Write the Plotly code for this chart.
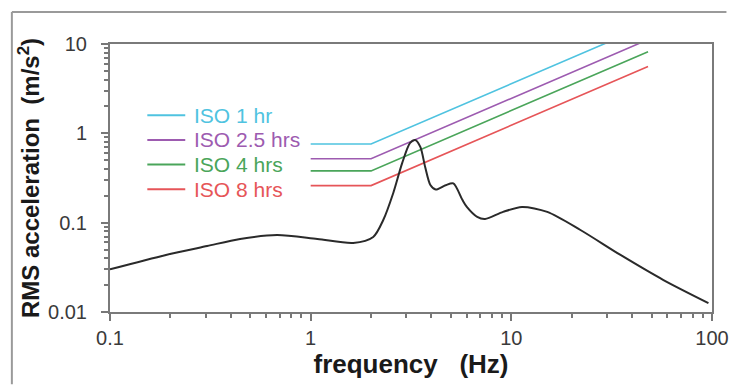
import plotly.graph_objects as go

# ---- data ----
freq = [0.1, 0.19, 0.305, 0.445, 0.68, 1.08, 1.63, 2.05, 2.30, 2.58, 2.86, 3.13, 3.32, 3.52, 3.72,
        3.95, 4.2, 4.7, 5.14, 5.7, 6.0, 6.76, 7.4, 9.1, 11.3, 15.1, 22.1, 35.0, 57.3, 96.0]
rms = [0.030, 0.0435, 0.0548, 0.0657, 0.0728, 0.0657, 0.0593, 0.0692, 0.107, 0.215, 0.467, 0.78, 0.843,
       0.705, 0.42, 0.264, 0.235, 0.262, 0.275, 0.18, 0.15, 0.116, 0.110, 0.132, 0.150, 0.132, 0.0828,
       0.0435, 0.0228, 0.0126]

iso_freq = [1, 2, 48]
iso_names = ["ISO 1 hr", "ISO 2.5 hrs", "ISO 4 hrs", "ISO 8 hrs"]
iso_values = [
    [0.76, 0.76, 16.3],
    [0.52, 0.52, 11.2],
    [0.38, 0.38, 8.2],
    [0.26, 0.26, 5.6],
]
iso_colors = ["#4fc3e0", "#9d5bb0", "#4aa55a", "#e65558"]

x_ticks = [0.1, 1, 10, 100]
x_ticktext = ["0.1", "1", "10", "100"]
y_ticks = [0.01, 0.1, 1, 10]
y_ticktext = ["0.01", "0.1", "1", "10"]

FONT = "Liberation Sans, Arial, sans-serif"

fig = go.Figure()
for name, vals, col in zip(iso_names, iso_values, iso_colors):
    fig.add_trace(go.Scatter(x=iso_freq, y=vals, mode="lines", name=name,
                             line=dict(color=col, width=1.6), showlegend=False))
fig.add_trace(go.Scatter(x=freq, y=rms, mode="lines", line=dict(color="#2a2a2a", width=2, shape="spline", smoothing=0.8),
                         showlegend=False))

# manual legend (inside plot area, top-left)
leg_x0, leg_x1, leg_tx = 0.062, 0.125, 0.137
leg_y0, leg_dy = 0.734, 0.092
for i, (name, col) in enumerate(zip(iso_names, iso_colors)):
    yy = leg_y0 - i * leg_dy
    fig.add_shape(type="line", xref="paper", yref="paper", x0=leg_x0, x1=leg_x1, y0=yy, y1=yy,
                  line=dict(color=col, width=2))
    fig.add_annotation(xref="paper", yref="paper", x=leg_tx, y=yy, text=name, showarrow=False,
                       xanchor="left", yanchor="middle", font=dict(family=FONT, size=21, color=col))

# outer frame (only top and left edges visible in the picture)
fig.add_shape(type="line", xref="paper", yref="paper", x0=-0.163, x1=1.024, y0=1.119, y1=1.119,
              line=dict(color="#9a9a9a", width=2), layer="below")
fig.add_shape(type="line", xref="paper", yref="paper", x0=-0.163, x1=-0.163, y0=1.119, y1=-0.27,
              line=dict(color="#9a9a9a", width=2), layer="below")

minor_x = [m * 10 ** e for e in (-1, 0, 1) for m in range(2, 10)]
minor_y = [m * 10 ** e for e in (-2, -1, 0) for m in range(2, 10)]

fig.update_xaxes(type="log", range=[-1, 2], tickvals=x_ticks, ticktext=x_ticktext, automargin=False,
                 ticks="outside", ticklen=7, tickwidth=1.5, tickcolor="#777",
                 showline=True, linecolor="#7a7a7a", linewidth=2, mirror=True, showgrid=False, zeroline=False,
                 minor=dict(tickvals=minor_x, ticks="outside", ticklen=4, tickcolor="#777", showgrid=False),
                 tickfont=dict(family=FONT, size=20, color="#3a3a3a"),
                 title=dict(text="<b>frequency&nbsp;&nbsp; (Hz)</b>", font=dict(family=FONT, size=26, color="#1a1a1a"), standoff=6))
fig.update_yaxes(type="log", range=[-2, 1], tickvals=y_ticks, ticktext=y_ticktext, automargin=False,
                 ticks="outside", ticklen=7, tickwidth=1.5, tickcolor="#777",
                 showline=True, linecolor="#7a7a7a", linewidth=2, mirror=True, showgrid=False, zeroline=False,
                 minor=dict(tickvals=minor_y, ticks="outside", ticklen=4, tickcolor="#777", showgrid=False),
                 tickfont=dict(family=FONT, size=20, color="#3a3a3a"), ticklabelstandoff=10,
                 title=dict(text="<b>RMS acceleration&nbsp; (m/s<sup>2</sup>)</b>", font=dict(family=FONT, size=24, color="#1a1a1a"), standoff=2))

fig.update_layout(width=729, height=387, margin=dict(l=110, r=17, t=44, b=75),
                  paper_bgcolor="white", plot_bgcolor="white", showlegend=False,
                  font=dict(family=FONT))

fig.write_html("out.html")
